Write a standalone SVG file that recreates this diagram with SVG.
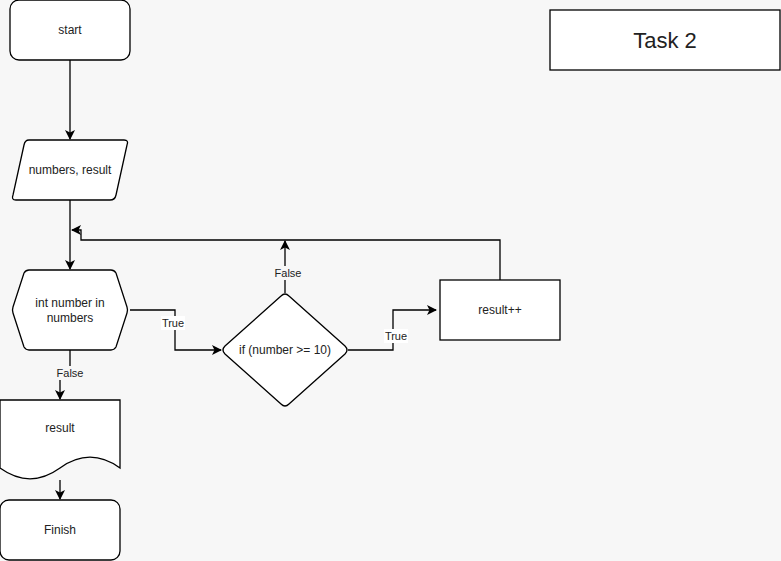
<svg xmlns="http://www.w3.org/2000/svg" width="781" height="561" viewBox="0 0 781 561">
<defs>
<marker id="arr" viewBox="0 0 10 10" refX="9" refY="5" markerWidth="10" markerHeight="10" markerUnits="userSpaceOnUse" orient="auto">
<path d="M0,0 L10,5 L0,10 L2.5,5 Z" fill="#000"/>
</marker>
</defs>
<style>
.shape{fill:#fff;stroke:#000;stroke-width:1.3}
.t{font-family:"Liberation Sans",Arial,sans-serif;font-size:12px;fill:#222;text-anchor:middle;dominant-baseline:central}
.lbl{font-family:"Liberation Sans",Arial,sans-serif;font-size:11px;fill:#222;text-anchor:middle;dominant-baseline:central}
.e{fill:none;stroke:#000;stroke-width:1.3}
.lb{fill:#fff}
</style>
<rect width="781" height="561" fill="#f7f7f7"/>
<g id="connectors">
<path class="e" d="M70,60 V139" marker-end="url(#arr)"/>
<path class="e" d="M70,200 V269" marker-end="url(#arr)"/>
<path class="e" d="M500,280 V240 H81 V230 H72" marker-end="url(#arr)"/>
<path class="e" d="M130,310 H175 V350 H221" marker-end="url(#arr)"/>
<path class="e" d="M285,293 V241" marker-end="url(#arr)"/>
<path class="e" d="M348,350 H393 V310 H436" marker-end="url(#arr)"/>
<path class="e" d="M70,350 V374 H60 V399" marker-end="url(#arr)"/>
<path class="e" d="M60,480 V499" marker-end="url(#arr)"/>
<rect class="lb" x="161" y="316" width="24" height="14"/>
<text class="lbl" x="173" y="323">True</text>
<rect x="273" y="266" width="29" height="14" fill="#f7f7f7"/>
<text class="lbl" x="288" y="273">False</text>
<rect class="lb" x="384" y="329" width="24" height="14"/>
<text class="lbl" x="396" y="336">True</text>
<rect x="56" y="366" width="29" height="14" fill="#f7f7f7"/>
<text class="lbl" x="70" y="373">False</text>
</g>
<g id="start">
<rect class="shape" x="10" y="0" width="120" height="60" rx="9"/>
<text class="t" x="70" y="30">start</text>
</g>
<g id="input">
<path class="shape" d="M29,140 H124 Q129,140 127,145 L116,195 Q115,200 110,200 H16 Q11,200 13,195 L24,145 Q25,140 29,140 Z"/>
<text class="t" x="70" y="170">numbers, result</text>
</g>
<g id="loop">
<path class="shape" d="M29,270 H111 Q114,270 116,273 L127,307 Q128,310 127,313 L116,347 Q114,350 111,350 H29 Q26,350 24,347 L13,313 Q12,310 13,307 L24,273 Q26,270 29,270 Z"/>
<text class="t" x="70" y="303">int number in</text>
<text class="t" x="70" y="318">numbers</text>
</g>
<g id="decision">
<path class="shape" d="M281,296 Q285,292 289,296 L345,346 Q349,350 345,354 L289,404 Q285,408 281,404 L225,354 Q221,350 225,346 Z"/>
<text class="t" x="285" y="350">if (number &gt;= 10)</text>
</g>
<g id="increment">
<rect class="shape" x="440" y="280" width="120" height="60"/>
<text class="t" x="500" y="310">result++</text>
</g>
<g id="output">
<path class="shape" d="M0,400 H120 V468 Q90,446.4 60,468 Q30,489.6 0,468 Z"/>
<text class="t" x="60" y="428">result</text>
</g>
<g id="finish">
<rect class="shape" x="0" y="500" width="120" height="60" rx="9"/>
<text class="t" x="60" y="530">Finish</text>
</g>
<g id="title">
<rect class="shape" x="550" y="10" width="230" height="60"/>
<text class="t" x="665" y="40" style="font-size:22px">Task 2</text>
</g>
</svg>
